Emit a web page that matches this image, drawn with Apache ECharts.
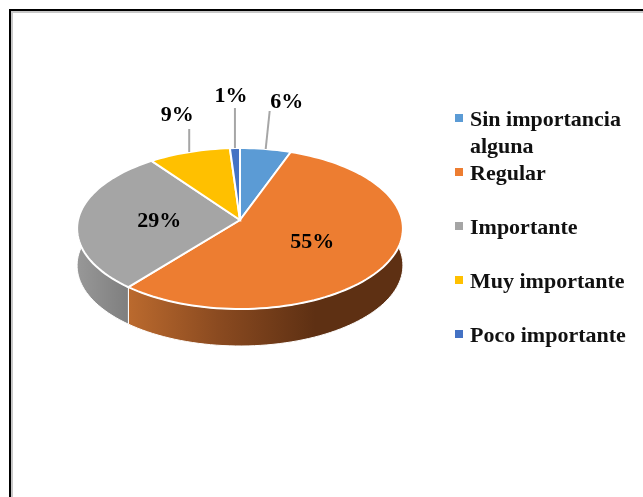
<!DOCTYPE html>
<html>
<head>
<meta charset="utf-8">
<style>
html,body{margin:0;padding:0;background:#fff;}
#chart{width:643px;height:497px;}
</style>
<script src="https://cdn.jsdelivr.net/npm/echarts@6/dist/echarts.min.js"></script>
</head>
<body>
<div id="chart"></div>
<script>
var categories = ["Sin importancia alguna","Regular","Importante","Muy importante","Poco importante"];
var values = [5.6,55.3,29,9,1.1];
var colors = ["#5b9bd5","#ed7d31","#a5a5a5","#ffc000","#4472c4"];
var legendRows = [118,172,226,280,334];
// label: inside pie (null) or leader length/lean and text offset from the leader top
var leaders = [
    {len:38,lean:4,dx:21,dy:-9},
    null,
    null,
    {len:23,lean:0,dx:-12,dy:-14},
    {len:40,lean:0,dx:-4,dy:-12}
];

var font = '"Liberation Serif","Times New Roman",serif';
var cx = 240, cy = 220;
var A = 162, B = 79.6, K = 0.1056, DEPTH = 37;
var total = values.reduce(function(a,b){return a+b;},0);

// projects a point of the pie disc (angle from top, clockwise) with a bit of perspective
function project(deg, r) {
    var t = deg*Math.PI/180;
    var u = Math.sin(t)*r, v = -Math.cos(t)*r;
    var w = 1-K*v;
    return [cx+A*u/w, cy+B*v/w];
}

function arc(from, to, dy) {
    var pts = [];
    var n = Math.max(2,Math.ceil((to-from)/2));
    for(var i=0;i<=n;i++){
        var p = project(from+(to-from)*i/n,1);
        pts.push([p[0],p[1]+dy]);
    }
    return pts;
}

var wallFill = {
    1: new echarts.graphic.LinearGradient(0,0,1,0,[
        {offset:0,color:"#bb6a2e"},{offset:0.33,color:"#8a4a20"},{offset:0.68,color:"#5e3013"},{offset:1,color:"#5e3013"}
    ]),
    2: new echarts.graphic.LinearGradient(0,0,1,0,[
        {offset:0,color:"#989898"},{offset:0.7,color:"#7e7e7e"},{offset:1,color:"#7e7e7e"}
    ])
};

function sliceItem(idx) {
    return function(params, api) {
        var start = 0;
        for(var i=0;i<idx;i++){ start += values[i]; }
        var from = start/total*360;
        var to = (start+api.value(0))/total*360;
        var mid = (from+to)/2;
        var top = arc(from,to,0);
        var bottom = arc(from,to,DEPTH).reverse();
        var children = [];
        if(wallFill[idx]){
            children.push({
                type:"polygon",z2:1,
                shape:{points:top.concat(bottom)},
                style:{fill:wallFill[idx],stroke:"#ffffff",lineWidth:1}
            });
        }
        children.push({
            type:"polygon",z2:10,
            shape:{points:[[cx,cy]].concat(top)},
            style:{fill:colors[idx],stroke:"#ffffff",lineWidth:2}
        });
        var pos, leader = leaders[idx];
        if(leader){
            var rim = project(mid,1);
            children.push({
                type:"line",z2:11,
                shape:{x1:rim[0],y1:rim[1],x2:rim[0]+leader.lean,y2:rim[1]-leader.len},
                style:{stroke:"#a6a6a6",lineWidth:2}
            });
            pos = [rim[0]+leader.dx,rim[1]-leader.len+leader.dy];
        } else {
            pos = project(mid,0.5);
            pos[1] += 2;
        }
        children.push({
            type:"text",z2:20,x:pos[0],y:pos[1],
            style:{text:Math.round(api.value(0))+"%",font:"bold 22px "+font,fill:"#000",align:"center",verticalAlign:"middle"}
        });
        return {type:"group",children:children};
    };
}

var myChart = echarts.init(document.getElementById("chart"));

var series = categories.map(function(name,i){
    return {
        name:name,
        type:"custom",
        coordinateSystem:"none",
        itemStyle:{color:colors[i]},
        renderItem:sliceItem(i),
        data:[[values[i]]],
        silent:true,
        animation:false
    };
});

var legends = categories.map(function(name,i){
    var wrapped = i===0;
    return {
        data:[name],
        left:455,
        top:wrapped ? legendRows[i]-42.5 : legendRows[i]-15.5,
        icon:"rect",
        itemWidth:8,
        itemHeight:8,
        selectedMode:false,
        padding:0,
        // blank spacer line sets where the text sits against the marker
        formatter:function(n){
            return wrapped ? "{big| }\n{t|Sin importancia}\n{t|alguna}" : "{small| }\n{t|"+n+"}";
        },
        textStyle:{
            padding:[0,0,0,2],
            rich:{
                t:{fontFamily:font,fontWeight:"bold",fontSize:22,color:"#111",lineHeight:27},
                small:{fontSize:4,lineHeight:4},
                big:{fontSize:31,lineHeight:31}
            }
        }
    };
});

myChart.setOption({
    backgroundColor:"#ffffff",
    animation:false,
    legend:legends,
    series:series,
    graphic:[
        {type:"rect",z:100,silent:true,shape:{x:12,y:12,width:700,height:600},style:{fill:"none",stroke:"#c8c8c8",lineWidth:2}},
        {type:"rect",z:101,silent:true,shape:{x:10,y:10,width:700,height:600},style:{fill:"none",stroke:"#000000",lineWidth:2}}
    ]
});
</script>
</body>
</html>
